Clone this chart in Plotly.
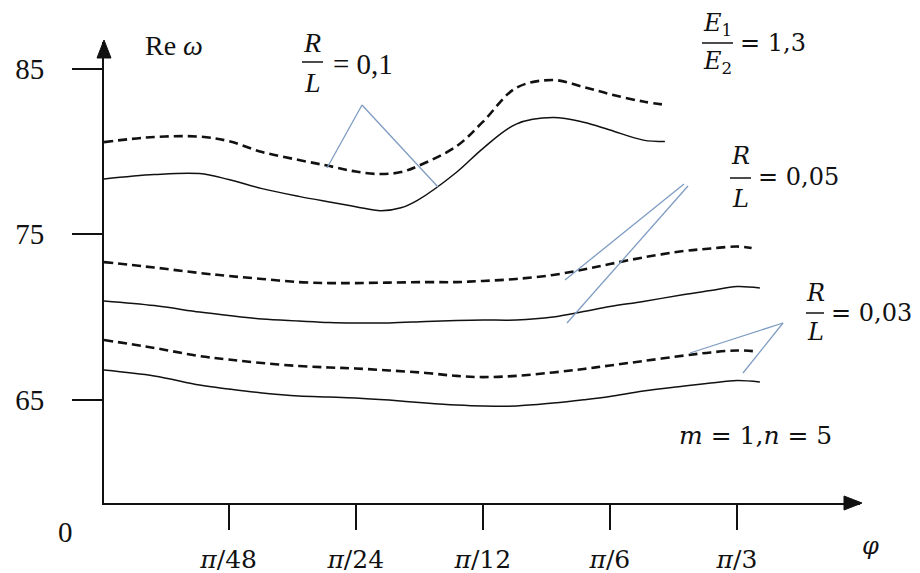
import math
import plotly.graph_objects as go

# Angle φ is stored in degrees (π/48 = 3.75°, π/24 = 7.5°, π/12 = 15°, π/6 = 30°, π/3 = 60°)
tick_phi = [3.75, 7.5, 15, 30, 60]
tick_text = ["<i>π</i>/48", "<i>π</i>/24", "<i>π</i>/12", "<i>π</i>/6", "<i>π</i>/3"]
re_ticks = [65, 75, 85]

# R/L = 0,1
phi_r01_dash = [1.9, 2.5, 3.2, 3.75, 4.5, 5.5, 6.5, 7.5, 8.6, 9.6, 10.5, 13, 15, 18, 22, 26, 30, 36, 41]
re_r01_dash = [80.57, 80.88, 80.90, 80.63, 79.97, 79.49, 79.12, 78.79, 78.64, 78.76, 79.11,
               80.32, 81.79, 83.85, 84.32, 83.90, 83.47, 83.02, 82.81]
phi_r01_solid = [1.9, 2.5, 3.2, 3.75, 4.5, 5.5, 6.5, 7.5, 8.6, 9.6, 10.5, 13, 15, 18, 22, 26, 30, 36, 40.5]
re_r01_solid = [78.34, 78.61, 78.67, 78.31, 77.76, 77.29, 76.95, 76.67, 76.42, 76.60, 77.05,
                78.75, 80.18, 81.66, 82.05, 81.77, 81.30, 80.69, 80.60]

# R/L = 0,05
phi_r005_dash = [1.9, 2.5, 3.2, 3.75, 4.5, 5.5, 6.5, 7.5, 9, 11, 13, 15, 18, 22, 26, 30, 36, 45, 52, 60, 65]
re_r005_dash = [73.32, 72.99, 72.66, 72.48, 72.30, 72.11, 72.05, 72.05, 72.08, 72.11, 72.11,
                72.18, 72.30, 72.54, 72.87, 73.20, 73.60, 73.99, 74.14, 74.26, 74.17]
phi_r005_solid = [1.9, 2.5, 3.2, 3.75, 4.5, 5.5, 6.5, 7.5, 9, 11, 13, 15, 18, 22, 26, 30, 36, 45, 52, 60, 68]
re_r005_solid = [70.97, 70.69, 70.30, 70.09, 69.88, 69.76, 69.67, 69.64, 69.64, 69.73, 69.79,
                 69.82, 69.82, 70.00, 70.33, 70.63, 70.94, 71.36, 71.60, 71.84, 71.75]

# R/L = 0,03
phi_r003_dash = [1.9, 2.5, 3.2, 3.75, 4.5, 5.5, 6.5, 7.5, 9, 11, 13, 15, 18, 22, 26, 30, 36, 45, 52, 60, 67]
re_r003_dash = [68.61, 68.13, 67.64, 67.43, 67.22, 67.04, 66.95, 66.89, 66.77, 66.62, 66.44,
                66.37, 66.44, 66.65, 66.86, 67.07, 67.34, 67.67, 67.86, 67.98, 67.92]
phi_r003_solid = [1.9, 2.5, 3.2, 3.75, 4.5, 5.5, 6.5, 7.5, 9, 11, 13, 15, 18, 22, 26, 30, 36, 45, 52, 60, 68]
re_r003_solid = [66.80, 66.44, 65.89, 65.65, 65.41, 65.23, 65.17, 65.11, 64.98, 64.80, 64.68,
                 64.62, 64.62, 64.80, 65.00, 65.20, 65.53, 65.83, 66.01, 66.16, 66.07]

# ---- page geometry (pixels) ----
W, H = 920, 573
PLOT_L, PLOT_T, PLOT_R, PLOT_B = 104, 42, 860, 503
PLOT_W, PLOT_H = PLOT_R - PLOT_L, PLOT_B - PLOT_T

TIMES = "Liberation Serif"
MATH = "DejaVu Serif"
INK = "#111111"
LEADER = "#7f9cc2"


def paper(x, y):
    """Convert a page pixel position to paper coordinates."""
    return (x - PLOT_L) / PLOT_W, (PLOT_B - y) / PLOT_H


fig = go.Figure()

series = [
    (phi_r01_dash, re_r01_dash, "dash"),
    (phi_r01_solid, re_r01_solid, "solid"),
    (phi_r005_dash, re_r005_dash, "dash"),
    (phi_r005_solid, re_r005_solid, "solid"),
    (phi_r003_dash, re_r003_dash, "dash"),
    (phi_r003_solid, re_r003_solid, "solid"),
]
for xs, ys, style in series:
    if style == "dash":
        line = dict(color=INK, width=2.6, dash="9px,5px", shape="spline", smoothing=1.0)
    else:
        line = dict(color=INK, width=1.5, shape="spline", smoothing=1.0)
    fig.add_trace(go.Scatter(x=xs, y=ys, mode="lines", line=line,
                             showlegend=False, hoverinfo="skip"))

shapes = []


def seg(x0, y0, x1, y1, color=INK, width=1.5):
    a, b = paper(x0, y0)
    c, d = paper(x1, y1)
    shapes.append(dict(type="line", xref="paper", yref="paper", x0=a, y0=b, x1=c, y1=d,
                       line=dict(color=color, width=width), layer="above"))


def tri(pts):
    p = [paper(x, y) for x, y in pts]
    path = "M {} {} L {} {} L {} {} Z".format(p[0][0], p[0][1], p[1][0], p[1][1], p[2][0], p[2][1])
    shapes.append(dict(type="path", xref="paper", yref="paper", path=path,
                       fillcolor=INK, line=dict(color=INK, width=1), layer="above"))


# arrow heads on the axes
tri([(104, 40), (97, 58), (111, 58)])
tri([(862, 503), (844, 496), (844, 510)])

# leader lines from the parameter labels to the curves
seg(362, 105, 327, 168, LEADER, 1.3)
seg(362, 105, 438, 187, LEADER, 1.3)
seg(684, 184, 565, 280, LEADER, 1.3)
seg(688, 186, 567, 323, LEADER, 1.3)
seg(783, 323, 690, 353, LEADER, 1.3)
seg(783, 323, 743, 373, LEADER, 1.3)

# fraction bars
seg(302, 62, 323, 62)
seg(702, 43, 733, 43)
seg(730, 178, 751, 178)
seg(806, 313, 824, 313)

annotations = []


def label(text, x, y, family=MATH, size=24, xanchor="center"):
    a, b = paper(x, y)
    annotations.append(dict(text=text, x=a, y=b, xref="paper", yref="paper",
                            xanchor=xanchor, yanchor="middle", showarrow=False,
                            font=dict(family=family, size=size, color=INK)))


label("Re <i>ω</i>", 143, 45, TIMES, 28, "left")
label("0", 65, 532, TIMES, 29)
label("<i>φ</i>", 870, 546, MATH, 24)

# R/L = 0,1
label("<i>R</i>", 312, 42, TIMES, 28)
label("<i>L</i>", 312, 83, TIMES, 28)
label("= 0,1", 331, 64, TIMES, 29, "left")

# E1/E2 = 1,3
label("<i>E</i><sub>1</sub>", 717, 25, MATH, 24)
label("<i>E</i><sub>2</sub>", 717, 62, MATH, 24)
label("= 1,3", 738, 43, MATH, 24, "left")

# R/L = 0,05
label("<i>R</i>", 740, 156, MATH, 24)
label("<i>L</i>", 740, 199, MATH, 24)
label("= 0,05", 756, 177, MATH, 24, "left")

# R/L = 0,03
label("<i>R</i>", 815, 293, MATH, 24)
label("<i>L</i>", 815, 332, MATH, 24)
label("= 0,03", 829, 313, MATH, 24, "left")

label("<i>m</i> = 1,<i>n</i> = 5", 755, 435, MATH, 25)

x_lo = math.log10(1.90)
x_hi = math.log10(117.4)

fig.update_layout(
    width=W, height=H, autosize=False,
    margin=dict(l=PLOT_L, r=W - PLOT_R, t=PLOT_T, b=H - PLOT_B, pad=0, autoexpand=False),
    paper_bgcolor="white", plot_bgcolor="white",
    shapes=shapes, annotations=annotations,
    xaxis=dict(type="log", range=[x_lo, x_hi], tickmode="array", automargin=False,
               tickvals=tick_phi, ticktext=tick_text,
               showline=True, linecolor=INK, linewidth=2,
               ticks="outside", ticklen=25, tickwidth=1.5, tickcolor=INK,
               showgrid=False, zeroline=False, ticklabelstandoff=8,
               tickfont=dict(family=MATH, size=25, color=INK)),
    yaxis=dict(range=[58.76, 86.62], tickmode="array", tickvals=re_ticks, automargin=False,
               ticktext=[str(v) for v in re_ticks],
               showline=True, linecolor=INK, linewidth=2,
               ticks="outside", ticklen=30, tickwidth=1.5, tickcolor=INK,
               showgrid=False, zeroline=False, ticklabelstandoff=22,
               tickfont=dict(family=TIMES, size=29, color=INK)),
)

fig.write_html("out.html")
